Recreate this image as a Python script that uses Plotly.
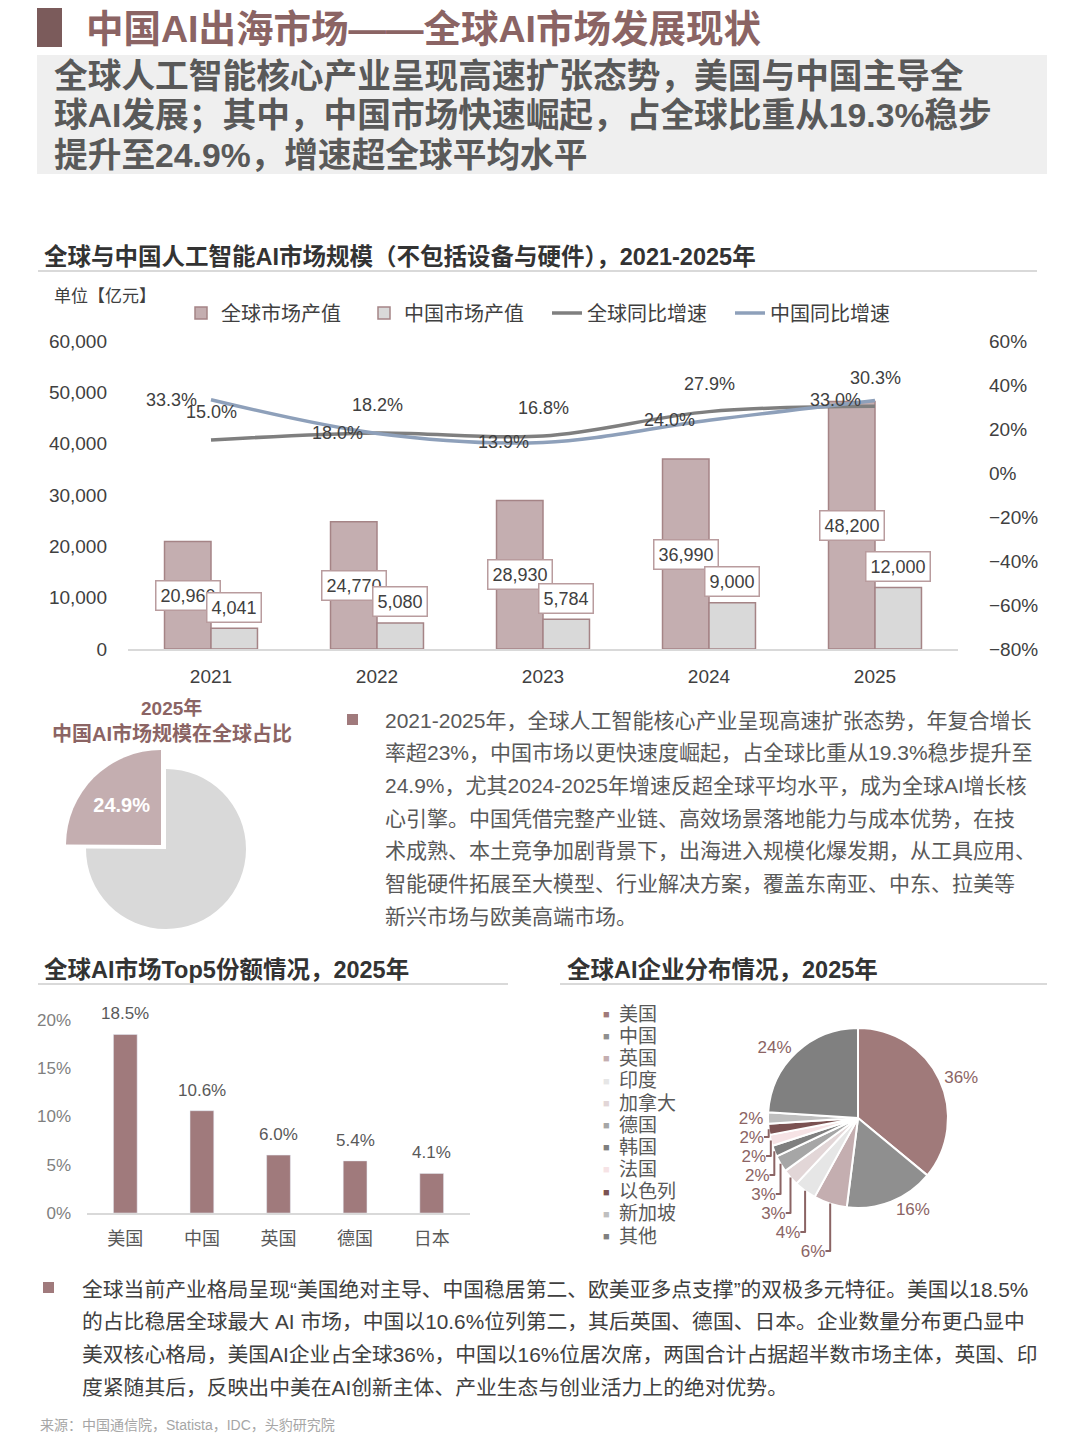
import plotly.graph_objects as go

W, H = 1080, 1442
OFF = 8  # the page body margin shifts the figure by 8 px
FONT = "Liberation Sans, Noto Sans CJK SC"

years = ['2021', '2022', '2023', '2024', '2025']
global_value = [20960, 24770, 28930, 36990, 48200]
china_value = [4041, 5080, 5784, 9000, 12000]
global_growth = [0.150, 0.182, 0.168, 0.279, 0.303]
china_growth = [0.333, 0.180, 0.139, 0.240, 0.330]

china_share = 24.9
share_labels = ['其他', '中国']

top5_names = ['美国', '中国', '英国', '德国', '日本']
top5_share = [0.185, 0.106, 0.060, 0.054, 0.041]

company_names = ['美国', '中国', '英国', '印度', '加拿大', '德国', '韩国', '法国', '以色列', '新加坡', '其他']
company_share = [36, 16, 6, 4, 3, 3, 2, 2, 2, 2, 24]
company_colors = ['#A07A7A', '#8F8F8F', '#C4AEB0', '#E6E6E6', '#E2D6D7', '#A6A6A6',
                  '#7F7F7F', '#F6E3E5', '#7B5252', '#BFBFBF', '#808080']

title_text = '中国AI出海市场——全球AI市场发展现状'
subtitle_lines = ['全球人工智能核心产业呈现高速扩张态势，美国与中国主导全',
                  '球AI发展；其中，中国市场快速崛起，占全球比重从19.3%稳步',
                  '提升至24.9%，增速超全球平均水平']
para1_lines = ['2021-2025年，全球人工智能核心产业呈现高速扩张态势，年复合增长',
               '率超23%，中国市场以更快速度崛起，占全球比重从19.3%稳步提升至',
               '24.9%，尤其2024-2025年增速反超全球平均水平，成为全球AI增长核',
               '心引擎。中国凭借完整产业链、高效场景落地能力与成本优势，在技',
               '术成熟、本土竞争加剧背景下，出海进入规模化爆发期，从工具应用、',
               '智能硬件拓展至大模型、行业解决方案，覆盖东南亚、中东、拉美等',
               '新兴市场与欧美高端市场。']
para2_lines = ['全球当前产业格局呈现“美国绝对主导、中国稳居第二、欧美亚多点支撑”的双极多元特征。美国以18.5%',
               '的占比稳居全球最大 AI 市场，中国以10.6%位列第二，其后英国、德国、日本。企业数量分布更凸显中',
               '美双核心格局，美国AI企业占全球36%，中国以16%位居次席，两国合计占据超半数市场主体，英国、印',
               '度紧随其后，反映出中美在AI创新主体、产业生态与创业活力上的绝对优势。']
source_text = '来源：中国通信院，Statista，IDC，头豹研究院'


def px(x):
    return (x - OFF) / W


def py(y):
    return 1 - (y - OFF) / H


annotations = []
shapes = []


def text(t, x, y, size, color, xanchor='left'):
    annotations.append(dict(text=t, x=px(x), y=py(y), xref='paper', yref='paper',
                            xanchor=xanchor, yanchor='middle', showarrow=False,
                            font=dict(size=size, color=color, family=FONT)))


def rect(x0, y0, x1, y1, color):
    shapes.append(dict(type='rect', xref='paper', yref='paper', x0=px(x0), x1=px(x1),
                       y0=py(y0), y1=py(y1), fillcolor=color, line=dict(width=0), layer='below'))


def hline(x0, x1, y, color='#D9D9D9', width=2):
    shapes.append(dict(type='line', xref='paper', yref='paper', x0=px(x0), x1=px(x1),
                       y0=py(y), y1=py(y), line=dict(color=color, width=width)))


fig = go.Figure()

# main chart: bars + growth lines
fig.add_trace(go.Bar(x=years, y=global_value, name='全球市场产值',
                     marker=dict(color='#C4AEB0', line=dict(color='#A58486', width=1.5)),
                     hoverinfo='skip'))
fig.add_trace(go.Bar(x=years, y=china_value, name='中国市场产值',
                     marker=dict(color='#D9D9D9', line=dict(color='#A58486', width=1.5)),
                     hoverinfo='skip'))
fig.add_trace(go.Scatter(x=years, y=global_growth, yaxis='y2', name='全球同比增速', mode='lines',
                         line=dict(color='#7F7F7F', width=3.5, shape='spline'), hoverinfo='skip'))
fig.add_trace(go.Scatter(x=years, y=china_growth, yaxis='y2', name='中国同比增速', mode='lines',
                         line=dict(color='#8EA0BA', width=3.5, shape='spline'), hoverinfo='skip'))

# labels use category index so the category axis places them
box = dict(xref='x', yref='y', showarrow=False, bgcolor='white', bordercolor='#B99C9E',
           borderwidth=1.5, borderpad=4, font=dict(size=18, color='#404040', family=FONT))
for i, v in enumerate(global_value):
    annotations.append(dict(box, x=i, y=v / 2, text=f'{v:,}', xshift=-23))
for i, v in enumerate(china_value):
    annotations.append(dict(box, x=i, y=v, text=f'{v:,}', xshift=23, yshift=21))
for i, v in enumerate(global_growth):
    annotations.append(dict(x=i, y=v, xref='x', yref='y2', text=f'{v * 100:.1f}%', showarrow=False,
                            yshift=28, font=dict(size=18, color='#404040', family=FONT)))
for i, v in enumerate(china_growth):
    annotations.append(dict(x=i, y=v, xref='x', yref='y2', text=f'{v * 100:.1f}%', showarrow=False,
                            xanchor='right', xshift=-12, font=dict(size=18, color='#404040', family=FONT)))

# small pie: China share of global, slice drawn larger
share_values = [100 - china_share, china_share]
fig.add_trace(go.Pie(values=share_values, labels=share_labels, sort=False,
                     direction='clockwise', rotation=0, textinfo='none', showlegend=False,
                     marker=dict(colors=['#D9D9D9', 'rgba(0,0,0,0)'], line=dict(width=0)),
                     domain=dict(x=[px(86), px(246)], y=[py(929), py(769)]), hoverinfo='skip'))
fig.add_trace(go.Pie(values=share_values, labels=share_labels, sort=False,
                     direction='clockwise', rotation=0, showlegend=False,
                     text=['', f'<b>{china_share}%</b>'], textinfo='text', textposition='inside',
                     insidetextorientation='horizontal',
                     textfont=dict(size=20, color='white', family=FONT),
                     marker=dict(colors=['rgba(0,0,0,0)', '#C4AEB0'], line=dict(width=0)),
                     domain=dict(x=[px(66), px(256)], y=[py(940), py(750)]), hoverinfo='skip'))

# top5 bar chart
fig.add_trace(go.Bar(x=top5_names, y=top5_share, xaxis='x3', yaxis='y3', width=0.31,
                     marker=dict(color='#A07A7C'), showlegend=False, hoverinfo='skip'))
for i, v in enumerate(top5_share):
    annotations.append(dict(x=i, y=v, xref='x3', yref='y3', text=f'{v * 100:.1f}%', showarrow=False,
                            yanchor='bottom', yshift=9, font=dict(size=17, color='#595959', family=FONT)))

# company distribution pie
fig.add_trace(go.Pie(values=company_share, labels=company_names, sort=False, direction='clockwise',
                     rotation=0, showlegend=False, texttemplate='%{value}%', textposition='outside',
                     textfont=dict(size=17, color='#8B6464', family=FONT),
                     marker=dict(colors=company_colors, line=dict(color='white', width=2)),
                     domain=dict(x=[px(768), px(948)], y=[py(1208), py(1028)]), hoverinfo='skip'))

# header
rect(37, 8, 62, 47, '#7B5B5B')
text(f'<b>{title_text}</b>', 84, 29, 37.5, '#8B6464')
rect(37, 55, 1047, 174, '#EFEFEF')
for i, line in enumerate(subtitle_lines):
    text(f'<b>{line}</b>', 52, 76 + i * 39.5, 33.7, '#595959')

text('<b>全球与中国人工智能AI市场规模（不包括设备与硬件），2021-2025年</b>', 42, 257, 23.5, '#333333')
hline(38, 1037, 271)
text('单位【亿元】', 52, 296, 17, '#404040')

# small pie title
text('<b>2025年</b>', 171, 708, 19, '#8B6464', xanchor='center')
text('<b>中国AI市场规模在全球占比</b>', 172, 733, 20, '#8B6464', xanchor='center')

# paragraph 1
rect(347, 714, 358, 725, '#A07A7C')
for i, line in enumerate(para1_lines):
    text(line, 383, 720 + i * 32.7, 21, '#595959')

# lower section titles
text('<b>全球AI市场Top5份额情况，2025年</b>', 42, 970, 23.5, '#333333')
hline(38, 508, 984)
text('<b>全球AI企业分布情况，2025年</b>', 565, 970, 23.5, '#333333')
hline(560, 1047, 984)

# legend for company pie
for i, (name, c) in enumerate(zip(company_names, company_colors)):
    yy = 1014 + i * 22.2
    text('■', 601, yy, 11, c)
    text(name, 617, yy, 19, '#595959')

# paragraph 2
rect(43, 1282, 54, 1293, '#A07A7C')
for i, line in enumerate(para2_lines):
    text(line, 80, 1289 + i * 32.8, 20.8, '#404040')

text(source_text, 38, 1425, 14, '#A6A6A6')

fig.update_layout(
    width=W, height=H, margin=dict(l=0, r=0, t=0, b=0, autoexpand=False),
    paper_bgcolor='white', plot_bgcolor='white',
    font=dict(family=FONT, color='#404040'),
    barmode='group', bargap=0.44, bargroupgap=0,
    showlegend=True,
    legend=dict(orientation='h', x=px(181), y=py(313), xanchor='left', yanchor='middle',
                font=dict(size=20, color='#404040', family=FONT), bgcolor='rgba(0,0,0,0)',
                traceorder='normal', entrywidth=138, entrywidthmode='pixels'),
    xaxis=dict(domain=[px(128), px(958)], anchor='y', type='category', showline=True,
               linecolor='#D9D9D9', linewidth=1.5, ticks='', ticklabelstandoff=9,
               tickfont=dict(size=19, color='#404040'), showgrid=False, automargin=False),
    yaxis=dict(domain=[py(649), py(341)], anchor='x', range=[0, 60000], dtick=10000,
               tickformat=',', showgrid=False, zeroline=False, ticklabelstandoff=20,
               tickfont=dict(size=19, color='#404040'), automargin=False),
    yaxis2=dict(overlaying='y', side='right', anchor='x', range=[-0.8, 0.6], dtick=0.2,
                tickformat='.0%', showgrid=False, zeroline=False, ticklabelstandoff=30,
                tickfont=dict(size=19, color='#404040'), automargin=False),
    xaxis3=dict(domain=[px(87), px(470)], anchor='y3', type='category', showline=True,
                linecolor='#D9D9D9', linewidth=1.5, ticks='', ticklabelstandoff=9,
                tickfont=dict(size=18, color='#595959'), showgrid=False, automargin=False),
    yaxis3=dict(domain=[py(1213), py(1020)], anchor='x3', range=[0, 0.2], dtick=0.05,
                tickformat='.0%', showgrid=False, zeroline=False, ticklabelstandoff=15,
                tickfont=dict(size=17, color='#7F7F7F'), automargin=False),
    annotations=annotations, shapes=shapes,
)

fig.write_html("out.html")
